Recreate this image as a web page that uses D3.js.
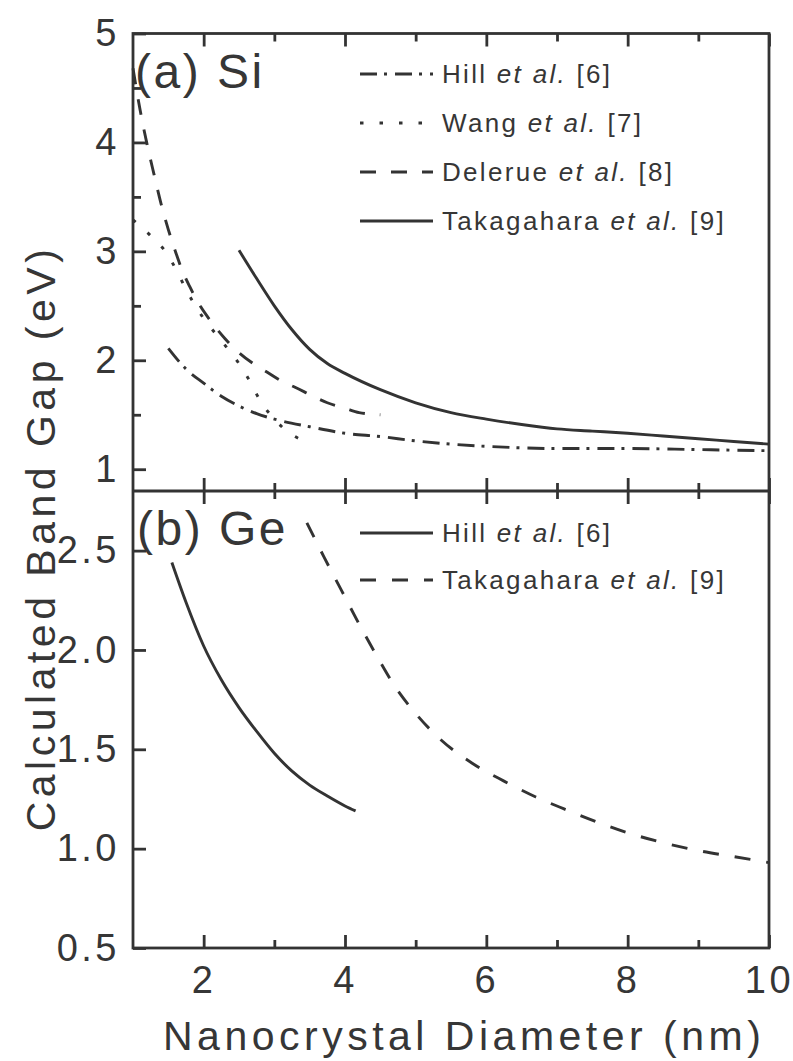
<!DOCTYPE html>
<html>
<head>
<meta charset="utf-8">
<script src="https://cdn.jsdelivr.net/npm/d3@7"></script>
<style>
  body { margin: 0; background: #fff; }
  svg text { font-family: "Liberation Sans", Arial, sans-serif; fill: #363636; }
</style>
</head>
<body>
<script>
// tick values
let xMajor = [2, 4, 6, 8, 10]
let xMinor = [3, 5, 7, 9]
let siMajor = [1, 2, 3, 4, 5]
let siMinor = [1.5, 2.5, 3.5, 4.5]
let geMajor = [0.5, 1.0, 1.5, 2.0, 2.5]

// (a) Si  -- [diameter (nm), gap (eV)]
let siHill = [[1.5,2.11],[1.75,1.92],[2.0,1.79],[2.25,1.67],[2.5,1.58],[2.75,1.51],[3.0,1.46],[3.5,1.39],[4.0,1.33],
              [4.5,1.3],[5.0,1.26],[5.5,1.23],[6.0,1.21],[7,1.19],[8,1.19],[9,1.18],[10,1.17]]
let siWang = [[1.0,3.29],[1.27,3.13],[1.48,2.98],[1.62,2.82],[1.76,2.64],[1.9,2.48],[2.1,2.3],[2.3,2.14],[2.5,1.97],
              [2.66,1.8],[2.8,1.63],[3.0,1.46],[3.22,1.33],[3.5,1.24]]
let siDelerue = [[1.0,4.68],[1.1,4.3],[1.2,3.98],[1.3,3.7],[1.4,3.43],[1.5,3.2],[1.6,3.0],[1.7,2.82],[1.8,2.68],
                 [1.95,2.5],[2.1,2.36],[2.3,2.2],[2.5,2.07],[2.7,1.97],[2.9,1.89],[3.1,1.81],[3.3,1.75],[3.55,1.67],
                 [3.75,1.61],[4.0,1.56],[4.2,1.52],[4.5,1.5]]
let siTakagahara = [[2.5,3.01],[2.75,2.75],[3.0,2.5],[3.25,2.28],[3.5,2.1],[3.75,1.97],[4.0,1.88],[4.5,1.73],
                    [5.0,1.61],[5.5,1.52],[6.0,1.46],[6.5,1.41],[7.0,1.37],[7.5,1.35],[8.0,1.33],[8.5,1.305],
                    [9.0,1.28],[9.5,1.255],[10,1.23]]

// (b) Ge
let geHill = [[1.55,2.44],[1.75,2.24],[2.0,2.02],[2.25,1.85],[2.5,1.71],[2.75,1.59],[3.0,1.48],[3.25,1.39],
              [3.5,1.32],[3.75,1.265],[4.0,1.215],[4.15,1.19]]
let geTakagahara = [[3.46,2.64],[3.7,2.47],[3.95,2.3],[4.2,2.13],[4.45,1.97],[4.7,1.82],[5.0,1.68],[5.35,1.55],
                    [5.8,1.43],[6.25,1.34],[6.7,1.26],[7.1,1.2],[7.6,1.13],[8.0,1.08],[8.5,1.03],[9.0,0.99],
                    [9.5,0.96],[10.0,0.93]]

let siNames = ["Hill", "Wang", "Delerue", "Takagahara"]
let siRefs = ["[6]", "[7]", "[8]", "[9]"]
let geNames = ["Hill", "Takagahara"]
let geRefs = ["[6]", "[9]"]

const width = 793, height = 1061
const plotLeft = 133, plotRight = 769, plotTop = 33.5, plotMid = 491, plotBottom = 948
const ink = "#333"

let svg = d3.select("body")
	.append("svg")
		.attr("width", width)
		.attr("height", height)

let x = d3.scaleLinear().domain([1, 10]).range([plotLeft, plotRight])
let yA = d3.scaleLinear().domain([0.8, 5]).range([plotMid, plotTop])
let yB = d3.scaleLinear().domain([0.5, 2.8]).range([plotBottom, plotMid])

// dash patterns: dash-dot, dotted, dashed, solid
let siDash = ["17,7,3,8", "3.5,16", "16,15", null]
let geDash = [null, "16,16"]

function drawCurves(series, dashes, y) {
	let line = d3.line()
		.x(d => x(d[0]))
		.y(d => y(d[1]))
		.curve(d3.curveMonotoneX)
	svg.append("g")
		.selectAll("path")
		.data(series)
		.enter()
		.append("path")
			.attr("d", line)
			.attr("fill", "none")
			.attr("stroke", ink)
			.attr("stroke-width", 2.9)
			.attr("stroke-dasharray", (d, i) => dashes[i])
}

drawCurves([siHill, siWang, siDelerue, siTakagahara], siDash, yA)
drawCurves([geHill, geTakagahara], geDash, yB)

//AXES
function noDomain(g) { g.select(".domain").remove() }

function tickStyle(g) {
	g.selectAll("line").attr("stroke", ink).attr("stroke-width", 2.8)
	g.selectAll("text")
		.attr("fill", "#363636")
		.style("font-size", "38px")
		.style("letter-spacing", "3.5px")
		.style("font-family", '"Liberation Sans", Arial, sans-serif')
}

// x ticks without labels: top of (a) pointing down, middle both ways, bottom minors
let xAxes = [
	[d3.axisBottom, plotTop, 13, xMajor], [d3.axisBottom, plotTop, 8, xMinor],
	[d3.axisBottom, plotMid, -13, xMajor], [d3.axisBottom, plotMid, -8, xMinor],
	[d3.axisTop, plotMid, -13, xMajor], [d3.axisTop, plotMid, -8, xMinor],
	[d3.axisBottom, plotBottom, -8, xMinor]
]
xAxes.forEach(a => {
	svg.append("g")
		.attr("transform", `translate(0,${a[1]})`)
		.call(a[0](x).tickValues(a[3]).tickSize(a[2]).tickFormat(""))
		.call(noDomain)
		.call(tickStyle)
})

svg.append("g")
	.attr("transform", `translate(0,${plotBottom})`)
	.call(d3.axisBottom(x).tickValues(xMajor).tickSize(-13).tickPadding(18).tickFormat(d3.format("d")))
	.call(noDomain)
	.call(tickStyle)

svg.append("g")
	.attr("transform", `translate(${plotLeft},0)`)
	.call(d3.axisLeft(yA).tickValues(siMajor).tickSize(-13).tickPadding(13).tickFormat(d3.format("d")))
	.call(noDomain)
	.call(tickStyle)

svg.append("g")
	.attr("transform", `translate(${plotLeft},0)`)
	.call(d3.axisLeft(yA).tickValues(siMinor).tickSize(-8).tickFormat(""))
	.call(noDomain)
	.call(tickStyle)

svg.append("g")
	.attr("transform", `translate(${plotLeft},0)`)
	.call(d3.axisLeft(yB).tickValues(geMajor).tickSize(-13).tickPadding(13).tickFormat(d3.format(".1f")))
	.call(noDomain)
	.call(tickStyle)

//FRAME
svg.append("rect")
	.attr("x", plotLeft)
	.attr("y", plotTop)
	.attr("width", plotRight - plotLeft)
	.attr("height", plotBottom - plotTop)
	.attr("fill", "none")
	.attr("stroke", ink)
	.attr("stroke-width", 2.8)
svg.append("line")
	.attr("x1", plotLeft).attr("x2", plotRight)
	.attr("y1", plotMid).attr("y2", plotMid)
	.attr("stroke", ink)
	.attr("stroke-width", 2.8)

//AXIS TITLES
svg.append("text")
	.attr("x", 163)
	.attr("y", 1050)
	.style("font-size", "41px")
	.style("letter-spacing", "4.5px")
	.text("Nanocrystal Diameter (nm)")

svg.append("text")
	.attr("transform", "translate(55,538) rotate(-90)")
	.attr("text-anchor", "middle")
	.style("font-size", "41px")
	.style("letter-spacing", "4.5px")
	.text("Calculated Band Gap (eV)")

//PANEL LABELS
svg.append("text").attr("x", 135).attr("y", 88)
	.style("font-size", "48px").style("letter-spacing", "2.5px").text("(a) Si")
svg.append("text").attr("x", 137).attr("y", 545)
	.style("font-size", "48px").style("letter-spacing", "2.5px").text("(b) Ge")

//LEGENDS
function drawLegend(names, refs, dashes, rowY) {
	let rows = svg.append("g")
		.selectAll("g")
		.data(names)
		.enter()
		.append("g")
			.attr("transform", (d, i) => `translate(360,${rowY[i]})`)
	rows.append("line")
		.attr("x1", 0).attr("x2", 73)
		.attr("stroke", ink)
		.attr("stroke-width", 2.8)
		.attr("stroke-dasharray", (d, i) => dashes[i])
	let label = rows.append("text")
		.attr("x", 82)
		.attr("y", 9)
		.style("font-size", "26px")
		.style("letter-spacing", "2.3px")
	label.append("tspan").text(d => d + " ")
	label.append("tspan").style("font-style", "italic").text("et al.")
	label.append("tspan").text((d, i) => " " + refs[i])
}

drawLegend(siNames, siRefs, siDash, [74, 123, 172, 221])
drawLegend(geNames, geRefs, geDash, [533, 580])
</script>
</body>
</html>
